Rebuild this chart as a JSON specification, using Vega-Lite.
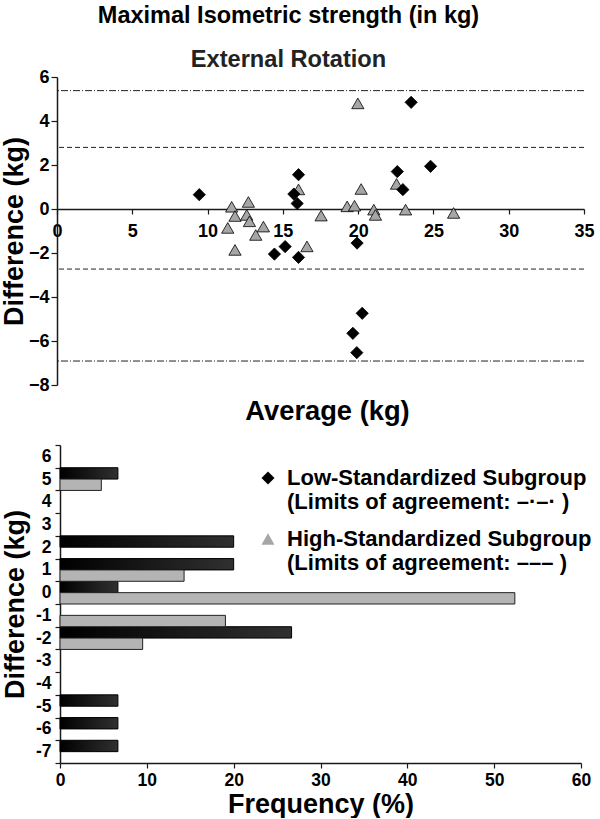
{
  "$schema": "https://vega.github.io/schema/vega-lite/v6.json",
  "background": "white",
  "padding": {"left": 0, "top": 3, "right": 5, "bottom": 0},
  "bounds": "flush",
  "center": true,
  "spacing": 60,
  "resolve": {"legend": {"shape": "independent", "fill": "independent"}},
  "config": {
    "font": "Liberation Sans",
    "view": {"stroke": null},
    "axis": {
      "labelFont": "Liberation Sans", "labelFontWeight": "bold", "labelFontSize": 17.5, "labelColor": "#000",
      "titleFont": "Liberation Sans", "titleFontWeight": "bold", "titleFontSize": 27, "titleColor": "#000",
      "domainColor": "#1a1a1a", "domainWidth": 1.5, "tickColor": "#1a1a1a", "tickWidth": 1.2, "grid": false,
      "labelFlush": false, "labelOverlap": false
    }
  },
  "vconcat": [
    {
      "width": 527,
      "height": 308,
      "title": {
        "text": "Maximal Isometric strength (in kg)",
        "subtitle": "External Rotation",
        "font": "Liberation Sans", "fontSize": 23.5, "fontWeight": "bold", "color": "#000",
        "subtitleFont": "Liberation Sans", "subtitleFontSize": 23.6, "subtitleFontWeight": "bold", "subtitleColor": "#222",
        "subtitlePadding": 21, "offset": -4, "anchor": "middle", "dx": -32
      },
      "layer": [
        {
          "data": {"values": [
            {"group": "Low", "difference": 5.38},
            {"group": "Low", "difference": -6.91},
            {"group": "High", "difference": 2.8},
            {"group": "High", "difference": -2.73}
          ]},
          "mark": {"type": "rule", "strokeWidth": 1, "color": "#222"},
          "encoding": {
            "y": {"field": "difference", "type": "quantitative", "title": "Difference (kg)", "scale": {"domain": [-8, 6]}},
            "strokeDash": {"field": "group", "type": "nominal", "scale": {"domain": ["Low", "High"], "range": [[7, 2, 1, 2], [5, 3]]}, "legend": null}
          }
        },
        {
          "data": {"values": [
            {"group": "High", "average": 11.6, "difference": 0.1},
            {"group": "High", "average": 12.71, "difference": 0.32},
            {"group": "High", "average": 11.82, "difference": -0.32},
            {"group": "High", "average": 12.6, "difference": -0.27},
            {"group": "High", "average": 12.78, "difference": -0.56},
            {"group": "High", "average": 11.34, "difference": -0.86},
            {"group": "High", "average": 13.71, "difference": -0.8},
            {"group": "High", "average": 13.2, "difference": -1.18},
            {"group": "High", "average": 11.82, "difference": -1.86},
            {"group": "High", "average": 16.04, "difference": 0.89},
            {"group": "High", "average": 17.54, "difference": -0.3},
            {"group": "High", "average": 16.6, "difference": -1.7},
            {"group": "High", "average": 19.98, "difference": 4.8},
            {"group": "High", "average": 22.55, "difference": 1.14},
            {"group": "High", "average": 20.2, "difference": 0.91},
            {"group": "High", "average": 19.27, "difference": 0.12},
            {"group": "High", "average": 19.76, "difference": 0.15},
            {"group": "High", "average": 21.04, "difference": -0.03},
            {"group": "High", "average": 21.15, "difference": -0.27},
            {"group": "High", "average": 23.15, "difference": -0.03},
            {"group": "High", "average": 26.34, "difference": -0.18},
            {"group": "Low", "average": 9.45, "difference": 0.65},
            {"group": "Low", "average": 16.04, "difference": 1.56},
            {"group": "Low", "average": 15.73, "difference": 0.68},
            {"group": "Low", "average": 15.95, "difference": 0.25},
            {"group": "Low", "average": 14.44, "difference": -2.05},
            {"group": "Low", "average": 15.15, "difference": -1.71},
            {"group": "Low", "average": 16.04, "difference": -2.2},
            {"group": "Low", "average": 23.52, "difference": 4.85},
            {"group": "Low", "average": 24.81, "difference": 1.94},
            {"group": "Low", "average": 22.6, "difference": 1.7},
            {"group": "Low", "average": 22.97, "difference": 0.88},
            {"group": "Low", "average": 19.93, "difference": -1.55},
            {"group": "Low", "average": 20.27, "difference": -4.74},
            {"group": "Low", "average": 19.65, "difference": -5.65},
            {"group": "Low", "average": 19.91, "difference": -6.53}
          ]},
          "mark": {"type": "point", "filled": true, "opacity": 1, "size": 150, "stroke": "#000", "strokeWidth": 0.8},
          "encoding": {
            "x": {
              "field": "average", "type": "quantitative", "scale": {"domain": [0, 35]},
              "axis": {"values": [0, 5, 10, 15, 20, 25, 30, 35], "offset": -176, "title": "Average (kg)", "titleFontSize": 27.3, "titlePadding": 157, "titleX": 270, "tickSize": 5, "labelPadding": 8, "labelFontSize": 18}
            },
            "y": {
              "field": "difference", "type": "quantitative", "scale": {"domain": [-8, 6]},
              "axis": {"values": [-8, -6, -4, -2, 0, 2, 4, 6], "title": "Difference (kg)", "tickSize": 6, "labelPadding": 2, "titlePadding": 0, "labelFontSize": 18}
            },
            "shape": {
              "field": "group", "type": "nominal",
              "scale": {"domain": ["Low", "High"], "range": ["diamond", "triangle-up"]},
              "legend": {
                "orient": "none", "legendX": 200, "legendY": 390, "title": null,
                "labelExpr": "datum.label === 'Low' ? ['Low-Standardized Subgroup', '(Limits of agreement: –·–·  )'] : ['High-Standardized Subgroup', '(Limits of agreement: –––  )']",
                "labelFont": "Liberation Sans", "labelFontSize": 22, "labelFontWeight": "bold", "labelColor": "#000", "labelLimit": 500,
                "symbolSize": 170, "symbolStrokeColor": "#000", "symbolStrokeWidth": 1, "rowPadding": 15, "labelOffset": 8,
                "encode": {
                  "labels": {"update": {"dy": {"value": 8}, "lineHeight": {"value": 24}}},
                  "symbols": {"update": {"stroke": {"value": "#000"}, "strokeWidth": {"value": 1}}}
                }
              }
            },
            "fill": {
              "field": "group", "type": "nominal",
              "scale": {"domain": ["Low", "High"], "range": ["#000000", "#a6a6a6"]}
            }
          }
        }
      ]
    },
    {
      "width": 521,
      "height": 318,
      "data": {"values": [
        {"bin": 5, "group": "Low", "frequency": 6.67},
        {"bin": 2, "group": "Low", "frequency": 20},
        {"bin": 1, "group": "Low", "frequency": 20},
        {"bin": 0, "group": "Low", "frequency": 6.67},
        {"bin": -2, "group": "Low", "frequency": 26.67},
        {"bin": -5, "group": "Low", "frequency": 6.67},
        {"bin": -6, "group": "Low", "frequency": 6.67},
        {"bin": -7, "group": "Low", "frequency": 6.67},
        {"bin": 5, "group": "High", "frequency": 4.76},
        {"bin": 1, "group": "High", "frequency": 14.29},
        {"bin": 0, "group": "High", "frequency": 52.38},
        {"bin": -1, "group": "High", "frequency": 19.05},
        {"bin": -2, "group": "High", "frequency": 9.52}
      ]},
      "encoding": {
        "y": {
          "field": "bin", "type": "ordinal",
          "scale": {"domain": [6, 5, 4, 3, 2, 1, 0, -1, -2, -3, -4, -5, -6, -7], "paddingInner": 0, "paddingOuter": 0},
          "axis": {"title": "Difference (kg)", "tickBand": "extent", "tickSize": 5, "labelPadding": 4, "labelAngle": 0, "titlePadding": 6}
        },
        "yOffset": {"field": "group", "type": "nominal", "scale": {"domain": ["Low", "High"], "paddingInner": 0, "paddingOuter": 0}},
        "x": {
          "field": "frequency", "type": "quantitative", "scale": {"domain": [0, 60]},
          "axis": {"values": [0, 10, 20, 30, 40, 50, 60], "title": "Frequency (%)", "tickSize": 5, "labelPadding": 3, "titlePadding": 3}
        }
      },
      "layer": [
        {
          "transform": [{"filter": "datum.group === 'Low'"}],
          "mark": {
            "type": "bar", "stroke": "#000", "strokeWidth": 1,
            "fill": {"gradient": "linear", "x1": 0, "x2": 1, "y1": 0, "y2": 0, "stops": [{"offset": 0, "color": "#000000"}, {"offset": 1, "color": "#303030"}]}
          }
        },
        {
          "transform": [{"filter": "datum.group === 'High'"}],
          "mark": {"type": "bar", "fill": "#b4b4b4", "stroke": "#222", "strokeWidth": 1}
        }
      ]
    }
  ]
}
